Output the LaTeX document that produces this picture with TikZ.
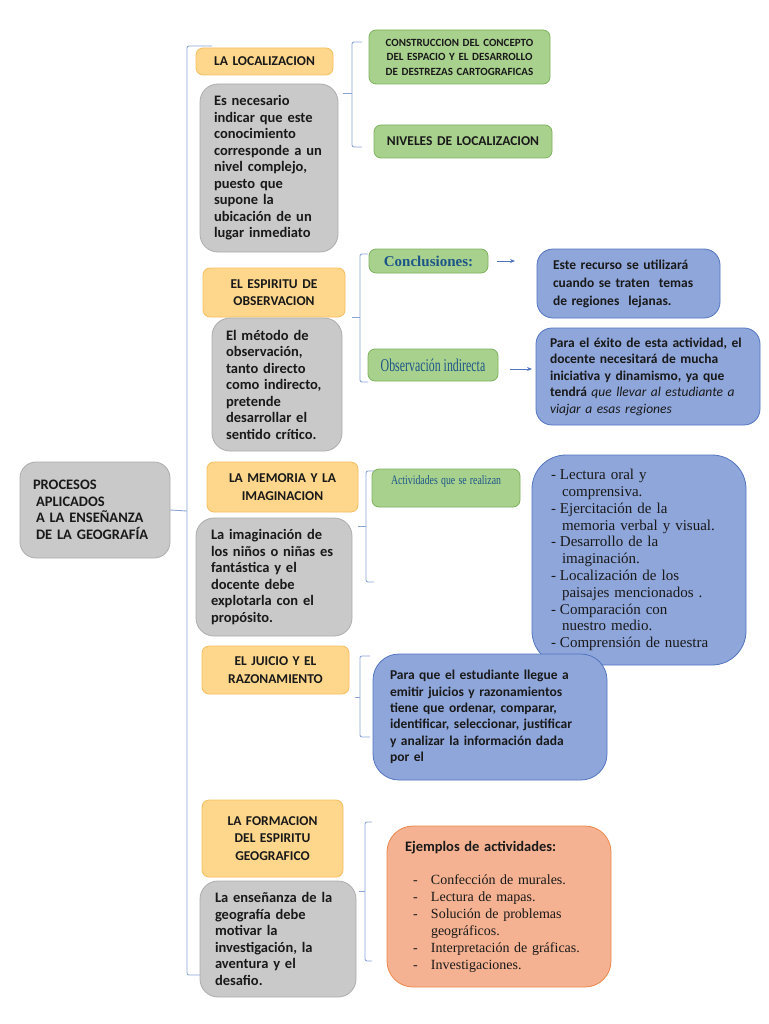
\documentclass[tikz,border=0pt]{standalone}
\usepackage{fontspec}
\setmainfont{Carlito}
\newfontfamily\timesfont{Liberation Serif}
\usepackage{graphicx}
\usetikzlibrary{positioning,arrows.meta,calc}
\definecolor{hdrfill}{RGB}{255,215,140}
\definecolor{hdrdraw}{RGB}{245,190,95}
\definecolor{notefill}{RGB}{201,201,201}
\definecolor{notedraw}{RGB}{172,172,172}
\definecolor{subfill}{RGB}{169,209,142}
\definecolor{subdraw}{RGB}{125,178,92}
\definecolor{infofill}{RGB}{143,166,219}
\definecolor{infodraw}{RGB}{82,117,192}
\definecolor{explfill}{RGB}{245,178,146}
\definecolor{expldraw}{RGB}{236,135,75}
\definecolor{bracecol}{RGB}{140,165,215}
\definecolor{tealtxt}{RGB}{28,86,136}
\tikzset{
	card/.style={anchor=north west, inner xsep=0pt, inner ysep=2pt, outer sep=0pt,
		draw, line width=.8pt, text=black!90},
	wh/.style 2 args={minimum width=#1pt, minimum height=#2pt},
	hdr/.style={card, fill=hdrfill, draw=hdrdraw, rounded corners=7pt, align=center,
		font=\fontsize{13.5}{17.5}\selectfont\bfseries},
	note/.style={card, fill=notefill, draw=notedraw, rounded corners=18pt, align=left,
		font=\fontsize{14.5}{16.5}\selectfont\bfseries},
	sub/.style={card, fill=subfill, draw=subdraw, rounded corners=7pt, align=center,
		font=\fontsize{13.5}{16}\selectfont\bfseries},
	info/.style={card, fill=infofill, draw=infodraw, rounded corners=16pt, align=left,
		font=\fontsize{13.5}{17}\selectfont\bfseries},
	expl/.style={card, fill=explfill, draw=expldraw, rounded corners=26pt, align=left},
	grp/.style={draw=bracecol, line width=.9pt, rounded corners=2pt},
	arr/.style={draw=infodraw, line width=.8pt, -{Stealth[length=5pt,width=4pt]}}
}
\newcommand{\li}{\makebox[9pt][l]{-}}
\newcommand{\lc}{\hspace*{11pt}}
\newcommand{\ei}{\hspace*{8pt}\makebox[18pt][l]{-}}
\newcommand{\ec}{\hspace*{26pt}}
\begin{document}
\begin{tikzpicture}[x=1pt,y=-1pt]
  \useasboundingbox (0,0) rectangle (768,1024);
  % root
  \node[note, at={(20,462)}, wh={150}{96}, text width=124pt, rounded corners=16pt,
  	font=\fontsize{14.5}{16.5}\selectfont\bfseries] (proc)
  	{PROCESOS\\\hspace*{3pt}APLICADOS\\\hspace*{3pt}A LA ENSEÑANZA\\\hspace*{3pt}DE LA GEOGRAFÍA\\[-6pt]};
  % la localizacion
  \node[hdr, at={(196,48)}, wh={137}{27}, text width=130pt] (lochdr) {LA LOCALIZACION};
  \node[note, at={(200,84)}, wh={138}{168}, text width=110pt] (locnote)
  	{Es necesario\\indicar que este\\conocimiento\\corresponde a un\\nivel complejo,\\puesto que\\supone la\\ubicación de un\\lugar inmediato};
  \node[sub, at={(369,30)}, wh={181}{54}, text width=175pt,
  	font=\fontsize{11}{14.5}\selectfont\bfseries] (locsub1)
  	{CONSTRUCCION DEL CONCEPTO\\DEL ESPACIO Y EL DESARROLLO\\DE DESTREZAS CARTOGRAFICAS};
  \node[sub, at={(374,125)}, wh={178}{33}, text width=172pt] (locsub2) {NIVELES DE LOCALIZACION};
  % el espiritu de observacion
  \node[hdr, at={(203,268)}, wh={142}{49}, text width=135pt] (obshdr) {EL ESPIRITU DE\\OBSERVACION};
  \node[note, at={(212,318)}, wh={130}{133}, text width=102pt] (obsnote)
  	{El método de\\observación,\\tanto directo\\como indirecto,\\pretende\\desarrollar el\\sentido crítico.};
  \node[sub, at={(369,249)}, wh={119}{24}, text width=112pt,
  	font=\fontsize{15}{16}\selectfont\timesfont\bfseries, text=tealtxt] (concl) {Conclusiones:};
  \node[info, at={(537,249)}, wh={183}{69}, text width=151pt, font=\fontsize{13.5}{18}\selectfont\bfseries] (conclinfo)
  	{Este recurso se utilizará\\cuando se traten\ \ temas\\de regiones\ \ lejanas.};
  \node[sub, at={(368,349)}, wh={130}{32}, text width=124pt, text=tealtxt] (obsind)
  	{\scalebox{0.66}[1]{\fontsize{18}{18}\selectfont\mdseries\timesfont Observación indirecta}};
  \node[info, at={(536,328)}, wh={224}{97}, text width=196pt, font=\fontsize{13.5}{16.5}\selectfont\bfseries] (obsinfo)
  	{Para el éxito de esta actividad, el\\docente necesitará de mucha\\iniciativa y dinamismo, ya que\\tendrá {\mdseries\itshape que llevar al estudiante a}\\{\mdseries\itshape viajar a esas regiones}};
  \draw[arr, shorten <=9pt, shorten >=22pt] (concl.east) -- (concl.east -| conclinfo.west);
  \draw[arr, shorten <=12pt, shorten >=4pt] ([yshift=-4pt]obsind.east) -- ([yshift=-4pt]obsind.east -| obsinfo.west);
  % la memoria y la imaginacion
  \node[hdr, at={(207,462)}, wh={151}{50}, text width=144pt] (memhdr) {LA MEMORIA Y LA\\IMAGINACION};
  \node[note, at={(196,518)}, wh={156}{118}, text width=126pt] (memnote)
  	{La imaginación de\\los niños o niñas es\\fantástica y el\\docente debe\\explotarla con el\\propósito.};
  \node[sub, at={(372,469)}, wh={148}{38}, text width=142pt, text=tealtxt] (memsub)
  	{\resizebox{110pt}{9pt}{\timesfont\mdseries Actividades que se realizan}\\\rule{0pt}{13pt}};
  \node[info, at={(532,455)}, wh={214}{210}, text width=176pt, rounded corners=34pt,
  	font=\fontsize{15}{16.8}\selectfont\timesfont] (memlist)
  	{\li Lectura oral y\\\lc comprensiva.\\\li Ejercitación de la\\\lc memoria verbal y visual.\\\li Desarrollo de la\\\lc imaginación.\\\li Localización de los\\\lc paisajes mencionados .\\\li Comparación con\\\lc nuestro medio.\\\li Comprensión de nuestra};
  % el juicio y el razonamiento
  \node[hdr, at={(202,646)}, wh={147}{48}, text width=140pt] (juihdr) {EL JUICIO Y EL\\RAZONAMIENTO};
  \node[info, at={(373,654)}, wh={234}{126}, text width=200pt, rounded corners=26pt,
  	font=\fontsize{13.5}{16.4}\selectfont\bfseries] (juiinfo)
  	{Para que el estudiante llegue a\\emitir juicios y razonamientos\\tiene que ordenar, comparar,\\identificar, seleccionar, justificar\\y analizar la información dada\\por el};
  % la formacion del espiritu geografico
  \node[hdr, at={(202,800)}, wh={141}{77}, text width=134pt] (forhdr) {LA FORMACION\\DEL ESPIRITU\\GEOGRAFICO};
  \node[note, at={(200,881)}, wh={156}{116}, text width=126pt] (fornote)
  	{La enseñanza de la\\geografía debe\\motivar la\\investigación, la\\aventura y el\\desafio.};
  \node[expl, at={(387,826)}, wh={224}{161}, text width=188pt, font=\fontsize{14}{17}\selectfont] (forexpl)
  	{{\bfseries\fontsize{14.5}{17}\selectfont Ejemplos de actividades:}\\[16pt]
  	\timesfont\ei Confección de murales.\\\ei Lectura de mapas.\\\ei Solución de problemas\\\ec geográficos.\\\ei Interpretación de gráficas.\\\ei Investigaciones.};
  % brackets
  \draw[grp] (212,46) -- (187,46) -- (187,975) -- (200,975);
  \draw[grp] (proc.east) -- (187,511);
  \draw[grp] (362,42) -- (352,42) -- (352,147) -- (362,147);
  \draw[grp] (352,93) -- (343,93);
  \draw[grp] (368,254) -- (360,254) -- (360,382) -- (368,382);
  \draw[grp] (360,317) -- (352,317);
  \draw[grp] (374,471) -- (366,471) -- (366,582) -- (374,582);
  \draw[grp] (366,526) -- (358,526);
  \draw[grp] (370,656) -- (360,656) -- (360,737) -- (370,737);
  \draw[grp] (360,697) -- (355,697);
  \draw[grp] (372,822) -- (365,822) -- (365,961) -- (372,961);
  \draw[grp] (365,891) -- (359,891);
\end{tikzpicture}
\end{document}
